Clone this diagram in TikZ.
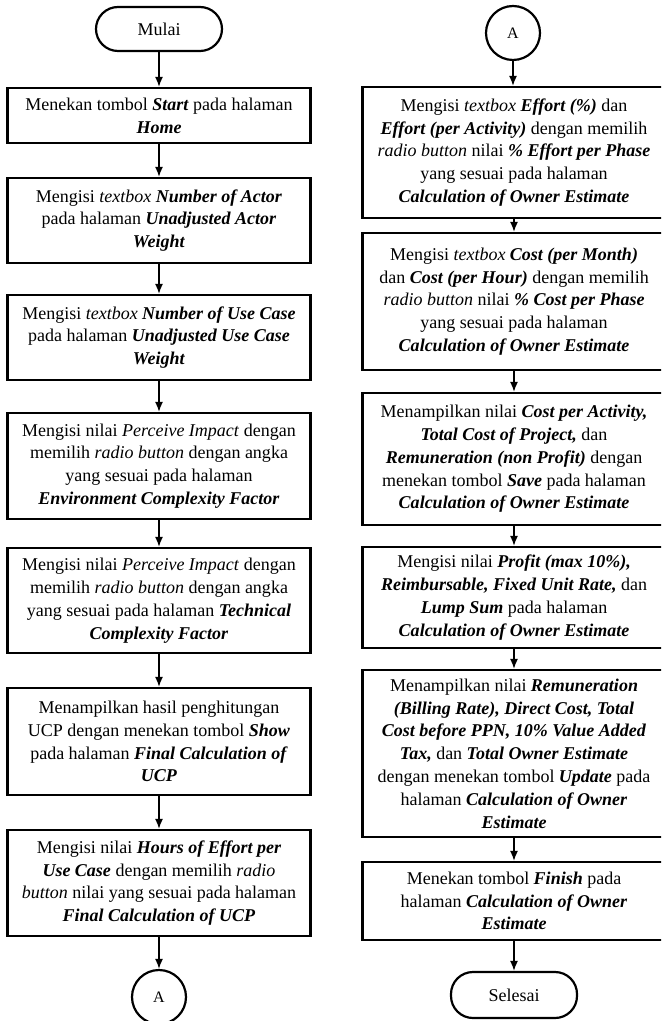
\documentclass[tikz,border=0pt]{standalone}
\usepackage{fontspec}
\setmainfont{Liberation Serif}
\usetikzlibrary{arrows.meta}
\newcommand{\bi}[1]{\textbf{\textit{#1}}}% tebal miring
\tikzset{
	langkah/.style={draw,line width=1.1pt,minimum width=151.5pt,align=center,inner sep=2pt,font=\fontsize{9}{11.4}\selectfont},
	terminal/.style={draw,line width=1.1pt,rounded corners=11pt,minimum width=63pt,minimum height=22pt,font=\fontsize{9}{11}\selectfont},
	konektor/.style={draw,circle,line width=1.1pt,minimum size=27pt,inner sep=0pt,font=\fontsize{8}{10}\selectfont},
	panah/.style={-{Latex[length=5pt,width=4pt]},line width=0.75pt}
}

\begin{document}
\begin{tikzpicture}[x=0.5pt,y=-0.5pt]
	\useasboundingbox (0,0) rectangle (661,1021);
	\clip (0,0) rectangle (661,1021);
	% kolom kiri
	\node[terminal] (mulai) at (159,29) {Mulai};
	\node[langkah,minimum height=27.5pt] (start) at (159,115.5) {Menekan tombol \bi{Start} pada halaman\\ \bi{Home}};
	\node[langkah,minimum height=42.5pt] (actor) at (159,220.5) {Mengisi \textit{textbox} \bi{Number of Actor}\\ pada halaman \bi{Unadjusted Actor}\\ \bi{Weight}};
	\node[langkah,minimum height=42.5pt] (usecase) at (159,337.5) {Mengisi \textit{textbox} \bi{Number of Use Case}\\ pada halaman \bi{Unadjusted Use Case}\\ \bi{Weight}};
	\node[langkah,minimum height=53pt] (ecf) at (159,466) {Mengisi nilai \textit{Perceive Impact} dengan\\ memilih \textit{radio button} dengan angka\\ yang sesuai pada halaman\\ \bi{Environment Complexity Factor}};
	\node[langkah,minimum height=52.5pt] (tcf) at (159,600.5) {Mengisi nilai \textit{Perceive Impact} dengan\\ memilih \textit{radio button} dengan angka\\ yang sesuai pada halaman \bi{Technical}\\ \bi{Complexity Factor}};
	\node[langkah,minimum height=53.5pt] (show) at (159,741.5) {Menampilkan hasil penghitungan\\ UCP dengan menekan tombol \bi{Show}\\ pada halaman \bi{Final Calculation of}\\ \bi{UCP}};
	\node[langkah,minimum height=53pt] (hours) at (159,883) {Mengisi nilai \bi{Hours of Effort per}\\ \bi{Use Case} dengan memilih \textit{radio}\\ \textit{button} nilai yang sesuai pada halaman\\ \bi{Final Calculation of UCP}};
	\node[konektor] (akeluar) at (159,997) {A};
	
	% kolom kanan
	\node[konektor] (amasuk) at (513,33) {A};
	\node[langkah,minimum height=65.5pt] (effort) at (514,152.5) {Mengisi \textit{textbox} \bi{Effort (\%)} dan\\ \bi{Effort (per Activity)} dengan memilih\\ \textit{radio button} nilai \bi{\% Effort per Phase}\\ yang sesuai pada halaman\\ \bi{Calculation of Owner Estimate}};
	\node[langkah,minimum height=68.5pt] (cost) at (514,301.5) {Mengisi \textit{textbox} \bi{Cost (per Month)}\\ dan \bi{Cost (per Hour)} dengan memilih\\ \textit{radio button} nilai \bi{\% Cost per Phase}\\ yang sesuai pada halaman\\ \bi{Calculation of Owner Estimate}};
	\node[langkah,minimum height=66pt] (save) at (514,459) {Menampilkan nilai \bi{Cost per Activity,}\\ \bi{Total Cost of Project,} dan\\ \bi{Remuneration (non Profit)} dengan\\ menekan tombol \bi{Save} pada halaman\\ \bi{Calculation of Owner Estimate}};
	\node[langkah,minimum height=50.5pt] (profit) at (514,597.5) {Mengisi nilai \bi{Profit (max 10\%),}\\ \bi{Reimbursable, Fixed Unit Rate,} dan\\ \bi{Lump Sum} pada halaman\\ \bi{Calculation of Owner Estimate}};
	\node[langkah,minimum height=83.5pt] (update) at (514,753.5) {Menampilkan nilai \bi{Remuneration}\\ \bi{(Billing Rate), Direct Cost, Total}\\ \bi{Cost before PPN, 10\% Value Added}\\ \bi{Tax,} dan \bi{Total Owner Estimate}\\ dengan menekan tombol \bi{Update} pada\\ halaman \bi{Calculation of Owner}\\ \bi{Estimate}};
	\node[langkah,minimum height=39pt] (finish) at (514,901) {Menekan tombol \bi{Finish} pada\\ halaman \bi{Calculation of Owner}\\ \bi{Estimate}};
	\node[terminal,minimum height=23pt] (selesai) at (514,995) {Selesai};
	
	\draw[panah] (mulai)--(start);
	\draw[panah] (start)--(actor);
	\draw[panah] (actor)--(usecase);
	\draw[panah] (usecase)--(ecf);
	\draw[panah] (ecf)--(tcf);
	\draw[panah] (tcf)--(show);
	\draw[panah] (show)--(hours);
	\draw[panah] (hours)--(akeluar);
	\draw[panah] (amasuk.south)--(amasuk.south|-effort.north);
	\draw[panah] (effort)--(cost);
	\draw[panah] (cost)--(save);
	\draw[panah] (save)--(profit);
	\draw[panah] (profit)--(update);
	\draw[panah] (update)--(finish);
	\draw[panah] (finish)--(selesai);
\end{tikzpicture}
\end{document}
